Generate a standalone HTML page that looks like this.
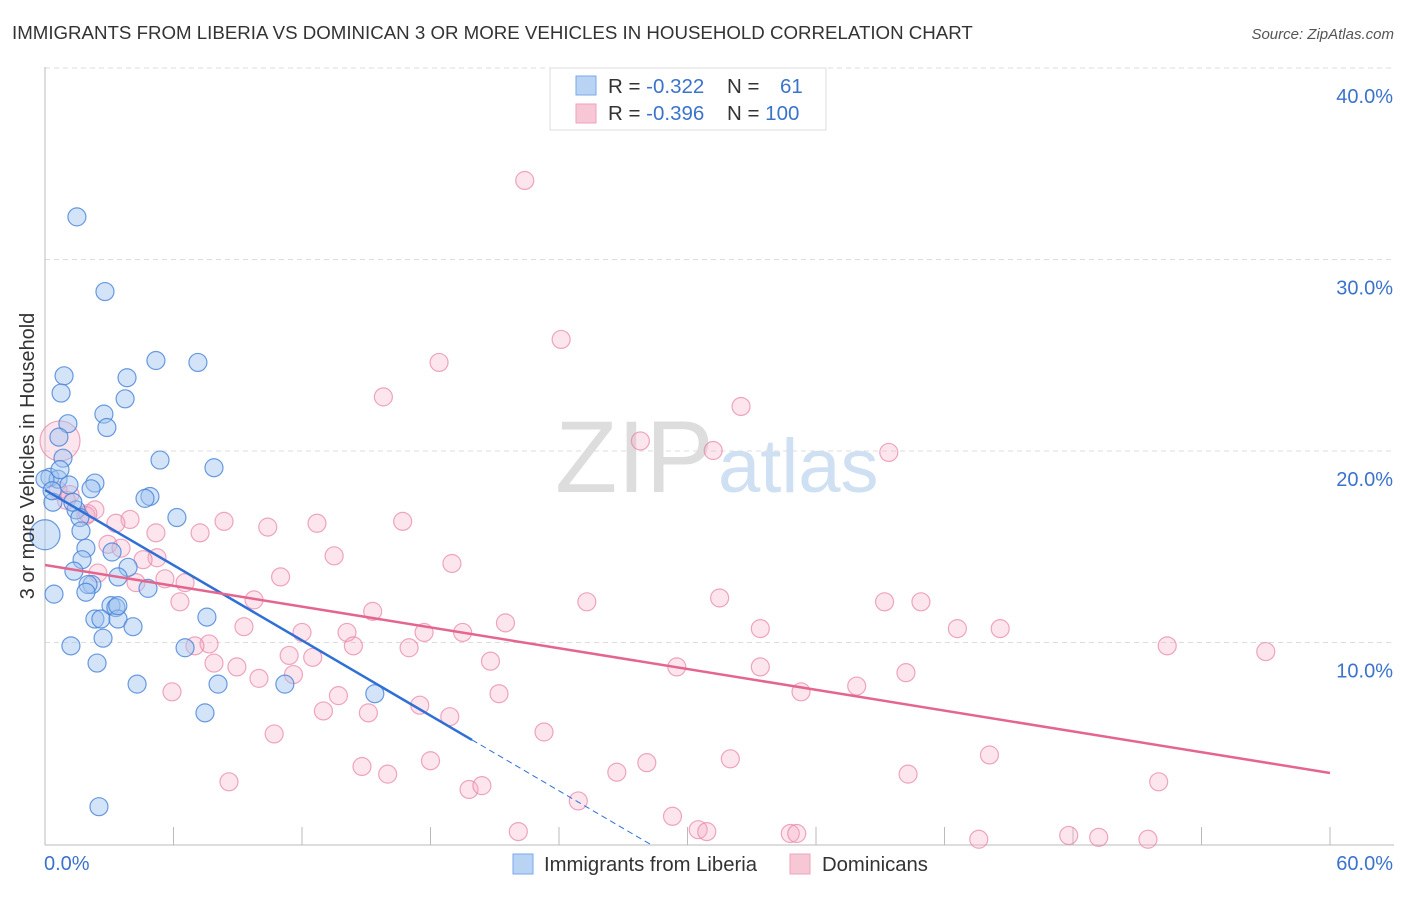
<!DOCTYPE html>
<html><head><meta charset="utf-8">
<style>
body{margin:0;background:#fff;font-family:"Liberation Sans",sans-serif;}
svg text{font-family:"Liberation Sans",sans-serif;}
</style></head>
<body>
<svg id="chart" width="1406" height="892" viewBox="0 0 1406 892" xmlns="http://www.w3.org/2000/svg">
<text x="12" y="39" font-size="18.7" fill="#333">IMMIGRANTS FROM LIBERIA VS DOMINICAN 3 OR MORE VEHICLES IN HOUSEHOLD CORRELATION CHART</text>
<text x="1394" y="39" font-size="15" fill="#555" font-style="italic" text-anchor="end">Source: ZipAtlas.com</text>
<g>
<text x="555" y="492" font-size="102" fill="#ddd" font-family="Liberation Serif">ZIP</text>
<text x="718" y="492" font-size="76" fill="#cfe0f3">atlas</text>
</g>
<g id="grid"></g>
<g id="axes"></g>
<g id="pts"></g>
<g id="trend"></g>
<text transform="translate(34,456) rotate(-90)" font-size="19.9" fill="#333" text-anchor="middle">3 or more Vehicles in Household</text>
<g>
<rect x="550" y="68" width="276" height="62" fill="#fff" stroke="#ddd"/>
<rect x="576" y="76" width="20" height="19" fill="#b9d3f4" stroke="#7aa8e8"/>
<rect x="576" y="104" width="20" height="19" fill="#f8c7d6" stroke="#eea3bb"/>
<text x="608" y="93" font-size="20.5" fill="#333">R = <tspan fill="#3b73cc">-0.322</tspan></text>
<text x="727" y="93" font-size="20.5" fill="#333">N = <tspan x="780" fill="#3b73cc">61</tspan></text>
<text x="608" y="120" font-size="20.5" fill="#333">R = <tspan fill="#3b73cc">-0.396</tspan></text>
<text x="727" y="120" font-size="20.5" fill="#333">N = <tspan fill="#3b73cc">100</tspan></text>
</g>
<g>
<rect x="513" y="854" width="20" height="20" fill="#b9d3f4" stroke="#7aa8e8"/>
<text x="544" y="871" font-size="20.3" fill="#333">Immigrants from Liberia</text>
<rect x="790" y="854" width="20" height="20" fill="#f8c7d6" stroke="#eea3bb"/>
<text x="822" y="871" font-size="20.3" fill="#333">Dominicans</text>
</g>
</svg>
<script>
const blueX=[1.49,2.80,5.18,7.14,0.89,3.83,0.75,3.74,2.75,2.89,1.07,0.65,0.84,5.37,7.89,0.23,0.61,1.12,2.33,2.15,4.90,4.67,0.37,1.45,1.63,6.16,1.68,1.91,3.13,1.73,3.88,1.35,3.41,2.19,2.01,4.81,1.91,0.42,7.56,3.08,3.31,2.33,2.61,3.41,4.11,2.71,1.21,6.54,2.43,4.30,8.08,11.2,15.4,7.47,2.52,0,0,0.7,1.3,3.4,0.33];
const blueY=[32.8,28.9,25.3,25.2,24.5,24.4,23.6,23.3,22.5,21.8,22.0,21.3,20.2,20.1,19.7,19.2,19.1,18.8,18.9,18.6,18.2,18.1,17.9,17.5,17.1,17.1,16.4,15.5,15.3,14.9,14.5,14.3,14.0,13.6,13.6,13.4,13.2,13.1,11.9,12.5,12.4,11.8,11.8,11.8,11.4,10.8,10.4,10.3,9.5,8.4,8.4,8.4,7.9,6.9,2.0,16.2,19.1,19.6,17.9,12.5,18.5];
const pinkX=[22.4,24.1,18.4,15.8,32.5,27.8,31.2,39.4,0.61,1.17,2.33,1.91,3.97,3.31,5.18,8.36,7.24,10.4,12.7,16.7,19.0,13.5,2.94,3.55,5.23,4.58,11.0,6.54,5.60,4.25,2.47,6.30,9.76,15.3,25.3,31.5,39.2,40.9,21.5,9.29,12.0,14.1,17.7,19.5,33.4,42.6,44.6,52.4,57.0,7.66,7.00,14.4,17.0,11.4,12.5,20.8,7.89,8.96,29.5,33.4,40.2,9.99,11.6,37.9,35.3,5.93,13.7,21.2,17.5,13.0,15.1,18.9,10.7,23.3,14.8,18.0,16.0,32.0,28.1,26.7,40.3,44.1,52.0,8.59,19.8,20.4,24.9,29.3,22.1,30.5,30.9,34.8,35.1,43.6,47.8,49.2,51.5,0.7,1.0,2.0];
const pinkY=[34.7,26.4,25.2,23.4,22.9,21.1,20.6,20.5,18.5,18.3,17.5,17.2,17.0,16.8,16.3,16.9,16.3,16.6,16.8,16.9,14.7,15.1,15.7,15.5,15.0,14.9,14.0,13.7,13.9,13.7,14.2,12.7,12.8,12.2,12.7,12.9,12.7,12.7,11.6,11.4,11.1,11.1,11.1,11.1,11.3,11.3,11.3,10.4,10.1,10.5,10.4,10.4,10.3,9.9,9.8,9.6,9.5,9.3,9.3,9.3,9.0,8.7,8.9,8.3,8.0,8.0,7.8,7.9,7.3,7.0,6.9,6.7,5.8,5.9,4.1,4.4,3.7,4.5,4.3,3.8,3.7,4.7,3.3,3.3,2.9,3.1,2.3,1.5,0.7,0.8,0.7,0.6,0.6,0.3,0.5,0.4,0.3,21.1,18.0,17.3];
const pinkBig=[97];
const blueBig=[55];
const yTicks=[10,20,30,40];
const yTickLabels=["10.0%","20.0%","30.0%","40.0%"];
const xTickLabels=["0.0%","60.0%"];
const blueTrend=[18.54,-0.6546,19.94,28.3];
const pinkTrend=[14.62,-0.181,60];

const X0=45,X1=1330,Y0=845,PY=19.15;
const sx=v=>X0+(X1-X0)*v/60;
const sy=v=>Y0-v*PY;
const NS="http://www.w3.org/2000/svg";
function mk(tag,attrs,parent){const e=document.createElementNS(NS,tag);for(const k in attrs)e.setAttribute(k,attrs[k]);document.getElementById(parent).appendChild(e);return e;}

yTicks.forEach((t,i)=>{
  const g=mk('line',{x1:X0,x2:1394,y1:sy(t)-11,y2:sy(t)-11,stroke:'#ddd','stroke-dasharray':'5,4'},'grid');
  
  
  const l=mk('text',{x:1393,y:sy(t)+24,'font-size':20,fill:'#3b73cc','text-anchor':'end'},'axes');
  l.textContent=yTickLabels[i];
  
  
});
const ax=mk('line',{x1:X0,x2:X0,y1:67,y2:Y0,stroke:'#bbb'},'axes');


const bx=mk('line',{x1:X0,x2:1394,y1:Y0,y2:Y0,stroke:'#bbb'},'axes');


for(let i=1;i<=10;i++){
  const t=mk('line',{x1:X0+i*128.5,x2:X0+i*128.5,y1:Y0-18,y2:Y0,stroke:'#bbb'},'axes');
  
  
}
const xl0=mk('text',{x:44,y:870,'font-size':20,fill:'#3b73cc'},'axes');xl0.textContent=xTickLabels[0];


const xl1=mk('text',{x:1393,y:870,'font-size':20,fill:'#3b73cc','text-anchor':'end'},'axes');xl1.textContent=xTickLabels[1];



pinkX.forEach((v,i)=>{
  const c=mk('circle',{cx:sx(v),cy:sy(pinkY[i]),r:pinkBig.includes(i)?20:9,fill:'rgba(245,170,195,0.3)',stroke:'rgba(232,130,165,0.7)','stroke-width':1.2},'pts');
  
  
});
blueX.forEach((v,i)=>{
  const c=mk('circle',{cx:sx(v),cy:sy(blueY[i]),r:blueBig.includes(i)?15:9,fill:'rgba(160,196,240,0.45)',stroke:'rgba(70,130,215,0.8)','stroke-width':1.2},'pts');
  
  
});
const bt=mk('line',{x1:sx(0),y1:sy(blueTrend[0]),x2:sx(blueTrend[2]),y2:sy(blueTrend[0]+blueTrend[1]*blueTrend[2]),stroke:'#2f6fd6','stroke-width':2.5},'trend');


const bd=mk('line',{x1:sx(blueTrend[2]),y1:sy(blueTrend[0]+blueTrend[1]*blueTrend[2]),x2:sx(blueTrend[3]),y2:sy(blueTrend[0]+blueTrend[1]*blueTrend[3]),stroke:'#2f6fd6','stroke-width':1,'stroke-dasharray':'6,4'},'trend');


const pt=mk('line',{x1:sx(0),y1:sy(pinkTrend[0]),x2:sx(pinkTrend[2]),y2:sy(pinkTrend[0]+pinkTrend[1]*pinkTrend[2]),stroke:'#e4668f','stroke-width':2.5},'trend');


</script>
</body></html>
